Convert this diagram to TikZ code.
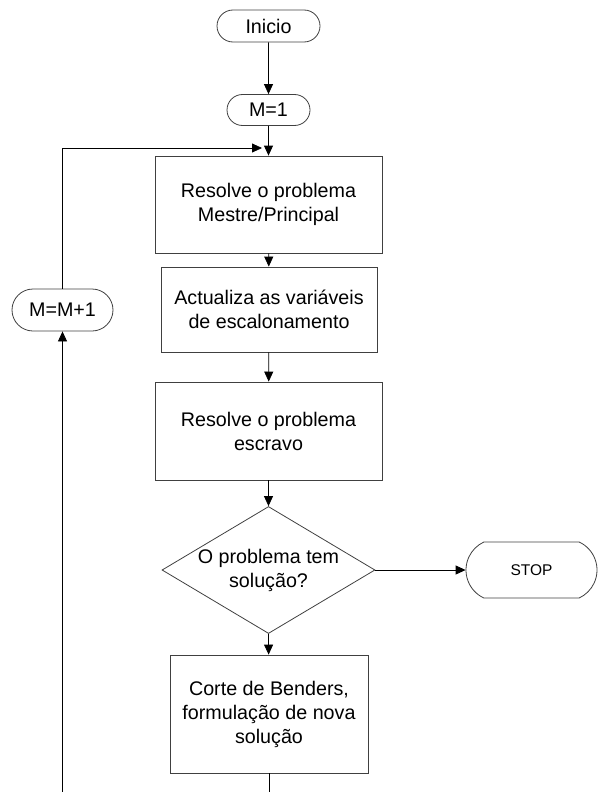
\documentclass[tikz,border=0pt]{standalone}
\usepackage{fontspec}
\setmainfont{Liberation Sans}
\usepackage{tikz}
\usetikzlibrary{positioning, arrows.meta, shapes.geometric, shapes.misc}
\definecolor{edgegrey}{RGB}{64,64,64}
\tikzset{
    stepbox/.style={draw=edgegrey, line width=0.8pt, rectangle, align=center, inner sep=0pt},
    termbox/.style={draw=edgegrey, line width=0.8pt, rounded rectangle, align=center, inner sep=0pt},
    decisionbox/.style={draw=edgegrey, line width=0.8pt, diamond, aspect=1.68, align=center, inner sep=-4pt},
    flowarrow/.style={-{Triangle[length=10pt,width=9pt]}, line width=0.8pt, draw=black},
    flowline/.style={line width=0.8pt, draw=black}
}

\begin{document}
\begin{tikzpicture}[x=1pt,y=-1pt,font=\fontsize{19.7}{24}\selectfont]
            \useasboundingbox (0,0) rectangle (598,792);
            % Terminals
            \node[termbox, minimum width=103pt, minimum height=32pt] (inicio) at (268.5,26) {Inicio};
            \node[termbox, minimum width=83pt, minimum height=31pt]  (minit)  at (268.5,110) {M=1};
            \node[termbox, minimum width=101pt, minimum height=42pt] (mincr)  at (62.5,310) {M=M+1};
            \node[termbox, minimum width=131pt, minimum height=56pt, rounded rectangle arc length=130,
                  font=\fontsize{15.5}{18}\selectfont] (stop) at (531.5,570) {STOP};
            
            % Process boxes
            \node[stepbox, minimum width=227pt, minimum height=97pt]  (master) at (268.5,204.5) {Resolve o problema\\Mestre/Principal};
            \node[stepbox, minimum width=216pt, minimum height=85pt]  (update) at (269,309.5)   {Actualiza as variáveis\\de escalonamento};
            \node[stepbox, minimum width=227pt, minimum height=98pt]  (slave)  at (268.5,431)   {Resolve o problema\\escravo};
            \node[decisionbox, minimum width=213pt, minimum height=127pt] (test) at (268.5,570) {O problema tem\\solução?};
            \node[stepbox, minimum width=198pt, minimum height=118pt] (cut)    at (269,714)     {Corte de Benders,\\formulação de nova\\solução};
            
            % Loop points (the loop runs off the bottom edge)
            \coordinate (cutend)  at (269,792);
            \coordinate (loopbot) at (62.5,792);
            \coordinate (looptop) at (62.5,148);
            \coordinate (loopin)  at (262,148);
            
            % Main flow
            \draw[flowarrow] (inicio) -- (minit);
            \draw[flowarrow] (minit) -- (master);
            \draw[flowarrow] (master) -- (update);
            \draw[flowarrow] (update) -- (slave);
            \draw[flowarrow] (slave) -- (test.north);
            \draw[flowarrow] (test.south) -- (cut);
            \draw[flowarrow] (test.east) -- (stop);
            
            % Back loop
            \draw[flowline] (cut) -- (cutend);
            \draw[flowarrow] (loopbot) -- (mincr);
            \draw[flowarrow] (mincr) -- (looptop) -- (loopin);
        \end{tikzpicture}
\end{document}
